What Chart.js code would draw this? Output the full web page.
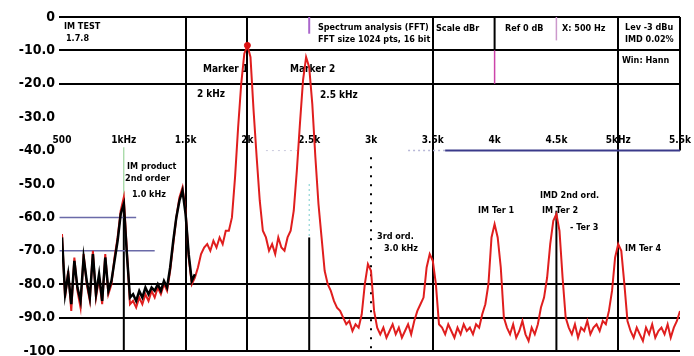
<!DOCTYPE html>
<html><head><meta charset="utf-8">
<script src="https://cdn.jsdelivr.net/npm/chart.js@4.4.1/dist/chart.umd.min.js"></script>
<style>html,body{margin:0;padding:0;background:#fff;overflow:hidden}#wrap{width:694px;height:356px;position:relative;background:#fff}</style>
</head><body><div id="wrap"><canvas id="c" width="694" height="356"></canvas></div>
<script>
// ---- data ----
const freqs = [
 500,525,550,575,600,625,650,675,700,725,750,775,800,825,850,875,900,925,950,975,
 1000,1025,1050,1075,1100,1125,1150,1175,1200,1225,1250,1275,1300,1325,1350,1375,1400,1425,1450,1475,
 1500,1525,1550,1575,1600,1625,1650,1675,1700,1725,1750,1775,1800,1825,1850,1875,1900,1925,1950,1975,
 2000,2025,2050,2075,2100,2125,2150,2175,2200,2225,2250,2275,2300,2325,2350,2375,2400,2425,2450,2475,
 2500,2525,2550,2575,2600,2625,2650,2675,2700,2725,2750,2775,2800,2825,2850,2875,2900,2925,2950,2975,
 3000,3025,3050,3075,3100,3125,3150,3175,3200,3225,3250,3275,3300,3325,3350,3375,3400,3425,3450,3475,
 3500,3525,3550,3575,3600,3625,3650,3675,3700,3725,3750,3775,3800,3825,3850,3875,3900,3925,3950,3975,
 4000,4025,4050,4075,4100,4125,4150,4175,4200,4225,4250,4275,4300,4325,4350,4375,4400,4425,4450,4475,
 4500,4525,4550,4575,4600,4625,4650,4675,4700,4725,4750,4775,4800,4825,4850,4875,4900,4925,4950,4975,
 5000,5025,5050,5075,5100,5125,5150,5175,5200,5225,5250,5275,5300,5325,5350,5375,5400,5425,5450,5475,
 5500];
const levelsRed = [
 -65,-84,-76,-88,-72,-82,-87,-71,-80,-85,-70,-84,-78,-86,-71,-83,-80,-72,-66,-58,
 -54,-70,-86,-85,-87,-84,-86,-83,-85,-82,-84,-81,-83,-80,-82,-76,-68,-60,-54,-51,
 -58,-72,-80,-78,-75,-71,-69,-68,-70,-67,-69,-66,-68,-64,-64,-60,-48,-33,-20,-11,
 -8.5,-12,-28,-42,-55,-64,-66,-70,-68,-71,-66,-69,-70,-66,-64,-58,-46,-32,-19,-12,
 -15,-26,-42,-56,-66,-76,-80,-82,-85,-87,-88,-90,-92,-91,-94,-92,-93,-89,-80,-74,
 -76,-88,-93,-95,-93,-96,-94,-92,-95,-93,-96,-94,-92,-95,-91,-88,-86,-84,-75,-71,
 -73,-80,-92,-93,-95,-92,-94,-96,-93,-95,-92,-94,-93,-95,-92,-93,-89,-86,-80,-66,
 -62,-66,-75,-90,-93,-95,-92,-96,-94,-91,-95,-97,-93,-95,-92,-87,-84,-78,-68,-61,
 -59,-64,-78,-90,-93,-95,-92,-96,-93,-94,-91,-95,-93,-92,-94,-91,-92,-88,-82,-72,
 -68,-70,-80,-91,-94,-96,-93,-95,-97,-93,-95,-92,-96,-94,-93,-95,-92,-96,-93,-91,
 -88];
const freqsBlack = [
 500,525,550,575,600,625,650,675,700,725,750,775,800,825,850,875,900,925,950,975,
 1000,1025,1050,1075,1100,1125,1150,1175,1200,1225,1250,1275,1300,1325,1350,1375,1400,1425,1450,1475,
 1500,1525,1550,1575];
const levelsBlack = [
 -66,-83,-77,-86,-73,-81,-85,-72,-79,-84,-71,-83,-77,-85,-72,-82,-79,-73,-67,-59,
 -56,-71,-84,-83,-85,-82,-84,-81,-83,-81,-82,-80,-82,-79,-81,-75,-67,-60,-55,-52,
 -59,-71,-79,-77];
const markerFreqs = [2000];
const markerLevels = [-8.5];
const xTickValues = [500,1000,1500,2000,2500,3000,3500,4000,4500,5000,5500];
const xTickLabels = ['500','1kHz','1.5k','2k','2.5k','3k','3.5k','4k','4.5k','5kHz','5.5k'];
const yTickValues = [0,-10,-20,-30,-40,-50,-60,-70,-80,-90,-100];
const yTickLabels = ['0','-10.0','-20.0','-30.0','-40.0','-50.0','-60.0','-70.0','-80.0','-90.0','-100'];

// ---- decoration (styles / layout, separate from data) ----
const fullYLines = [0,-10,-20,-80,-90,-100];
const fullXLines = [1500,2000,3500,5000];
const vSegs = [
 {f:1000,a:-55,b:-100,c:'#000',w:2},
 {f:1000,a:-39,b:-55,c:'#8c8',w:1},
 {f:2500,a:-66,b:-100,c:'#000',w:2},
 {f:2500,a:-50,b:-66,c:'#7cc',w:1,d:[2,3]},
 {f:2500,a:0,b:-5,c:'#a6c',w:2},
 {f:3000,a:-42,b:-100,c:'#000',w:2,d:[2,7]},
 {f:4000,a:0,b:-10,c:'#000',w:2},
 {f:4000,a:-10,b:-20,c:'#c4a',w:1.5},
 {f:4500,a:0,b:-7,c:'#c9c',w:1.5},
 {f:4500,a:-58,b:-100,c:'#000',w:2},
 {f:5500,a:0,b:-40,c:'#000',w:2}
];
const hSegs = [
 {v:-40,a:3300,b:3600,c:'#b8b8d8',w:1.5,d:[2,3]},
 {v:-40,a:3600,b:5500,c:'#3a3a8a',w:2},
 {v:-40,a:2150,b:2400,c:'#c9c9dd',w:1,d:[2,4]},
 {v:-60,a:480,b:1100,c:'#6a6aa8',w:1.5},
 {v:-70,a:480,b:1250,c:'#6a6aa8',w:1.5}
];
const notes = [
 {t:'IM TEST',f:516,v:-3.0},
 {t:'1.7.8',f:532,v:-6.6},
 {t:'Spectrum analysis (FFT)',f:2571,v:-3.3},
 {t:'FFT size 1024 pts, 16 bit',f:2571,v:-6.9},
 {t:'Scale dBr',f:3526,v:-3.6},
 {t:'Ref 0 dB',f:4084,v:-3.6},
 {t:'X: 500 Hz',f:4545,v:-3.6},
 {t:'Lev -3 dBu',f:5055,v:-3.3},
 {t:'IMD 0.02%',f:5055,v:-6.9},
 {t:'Win: Hann',f:5030,v:-13.1},
 {t:'Marker 1',f:1641,v:-15.8,s:10},
 {t:'2 kHz',f:1592,v:-23.3,s:10},
 {t:'Marker 2',f:2345,v:-15.8,s:10},
 {t:'2.5 kHz',f:2587,v:-23.6,s:10},
 {t:'IM product',f:1026,v:-44.8},
 {t:'2nd order',f:1010,v:-48.4},
 {t:'1.0 kHz',f:1066,v:-53.1},
 {t:'3rd ord.',f:3049,v:-65.7},
 {t:'3.0 kHz',f:3105,v:-69.3},
 {t:'IMD 2nd ord.',f:4367,v:-53.4},
 {t:'IM Ter 1',f:3866,v:-57.9},
 {t:'IM Ter 2',f:4383,v:-57.9},
 {t:'- Ter 3',f:4610,v:-63.0},
 {t:'IM Ter 4',f:5055,v:-69.3}
];
const FONT = '"DejaVu Sans Condensed","DejaVu Sans",sans-serif';

const decor = {
 id:'decor',
 beforeDatasetsDraw(chart){
  const {ctx} = chart; const xs = chart.scales.x, ys = chart.scales.y;
  ctx.save();
  vSegs.forEach(s=>{
   ctx.beginPath(); ctx.strokeStyle=s.c; ctx.lineWidth=s.w; ctx.setLineDash(s.d||[]);
   const x = xs.getPixelForValue(s.f);
   ctx.moveTo(x, ys.getPixelForValue(s.a)); ctx.lineTo(x, ys.getPixelForValue(s.b)); ctx.stroke();
  });
  hSegs.forEach(s=>{
   ctx.beginPath(); ctx.strokeStyle=s.c; ctx.lineWidth=s.w; ctx.setLineDash(s.d||[]);
   const y = ys.getPixelForValue(s.v);
   ctx.moveTo(xs.getPixelForValue(s.a), y); ctx.lineTo(xs.getPixelForValue(s.b), y); ctx.stroke();
  });
  ctx.setLineDash([]);
  ctx.fillStyle='#000'; ctx.textAlign='left'; ctx.textBaseline='middle';
  notes.forEach(n=>{
   ctx.font = 'bold '+(n.s||9)+'px '+FONT;
   ctx.fillText(n.t, xs.getPixelForValue(n.f), ys.getPixelForValue(n.v));
  });
  ctx.restore();
 }
};

const toXY = (xa, ya) => xa.map((x,i)=>({x:x, y:ya[i]}));

new Chart(document.getElementById('c'), {
 type:'line',
 data:{datasets:[
  {label:'Marker', data:toXY(markerFreqs, markerLevels), showLine:false, pointRadius:3, pointBackgroundColor:'#d11', pointBorderColor:'#d11'},
  {label:'Trace B', data:toXY(freqsBlack, levelsBlack), borderColor:'#000', borderWidth:2.5, pointRadius:0, tension:0},
  {label:'Trace A', data:toXY(freqs, levelsRed), borderColor:'#e01e1e', borderWidth:2, pointRadius:0, tension:0}
 ]},
 options:{
  responsive:false, animation:false, events:[],
  layout:{padding:{top:17,right:14,bottom:4,left:0}},
  plugins:{legend:{display:false}, tooltip:{enabled:false}},
  scales:{
   x:{type:'linear', min:500, max:5500, position:{y:-35},
      afterBuildTicks:s=>{s.ticks = xTickValues.map(v=>({value:v}));},
      ticks:{autoSkip:false, maxRotation:0, minRotation:0, padding:1, color:'#000',
             font:{family:FONT, size:10, weight:'bold'},
             callback:v=>{const i=xTickValues.indexOf(v); return i>=0?xTickLabels[i]:'';}},
      grid:{drawTicks:false, lineWidth:2, color:c=>(c.tick && fullXLines.includes(c.tick.value))?'#000':'rgba(0,0,0,0)'},
      border:{display:false}},
   y:{type:'linear', min:-100, max:0,
      afterBuildTicks:s=>{s.ticks = yTickValues.map(v=>({value:v}));},
      afterFit:s=>{s.width=62; s.paddingTop=0; s.paddingBottom=0;},
      ticks:{padding:4, color:'#000', font:{family:FONT, size:14, weight:'bold'},
             callback:v=>{const i=yTickValues.indexOf(v); return i>=0?yTickLabels[i]:'';}},
      grid:{drawTicks:true, tickLength:3, lineWidth:2, color:c=>(c.tick && fullYLines.includes(c.tick.value))?'#000':'rgba(0,0,0,0)'},
      border:{display:false}}
  }
 },
 plugins:[decor]
});
</script></body></html>
